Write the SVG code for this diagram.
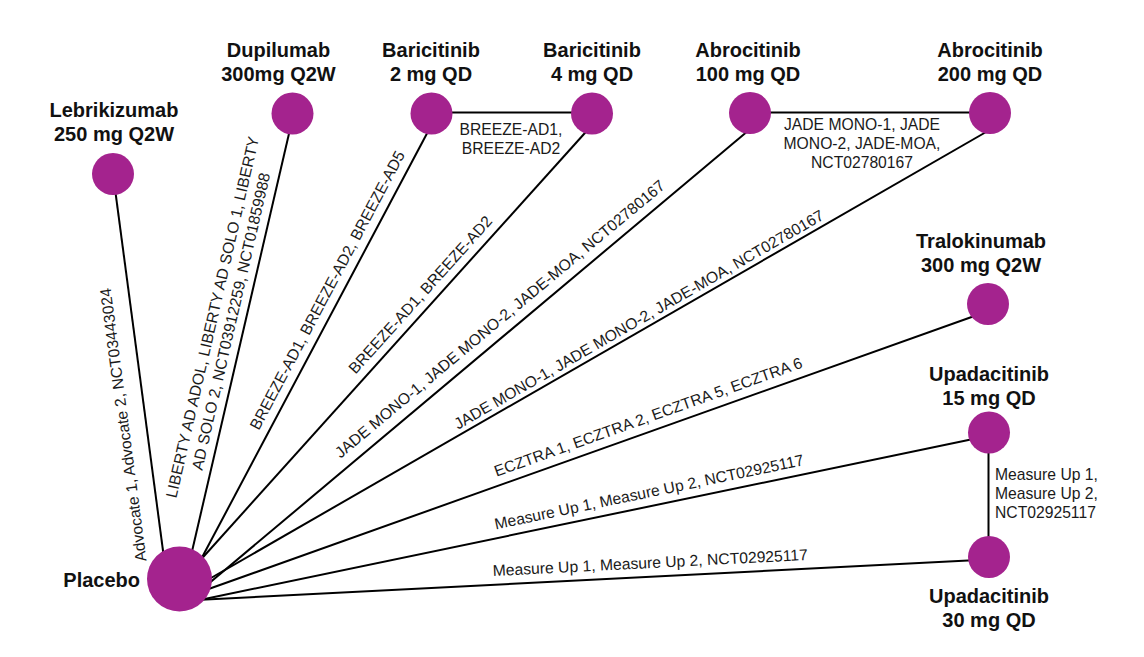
<svg xmlns="http://www.w3.org/2000/svg" width="1144" height="657" viewBox="0 0 1144 657">
<style>
.node{fill:#A4238E;}
.edge{stroke:#000;stroke-width:2;fill:none;}
.nl{font-family:"Liberation Sans",Arial,sans-serif;font-weight:bold;font-size:20px;fill:#111;text-anchor:middle;}
.el{font-family:"Liberation Sans",Arial,sans-serif;font-size:15.7px;fill:#1a1a1a;text-anchor:middle;}
</style>
<rect width="1144" height="657" fill="#fff"/>
<g id="connectors">
<line class="edge" x1="114.5" y1="185" x2="164.5" y2="562"/>
<line class="edge" x1="291" y1="125" x2="190" y2="560"/>
<line class="edge" x1="432" y1="124" x2="198" y2="565"/>
<line class="edge" x1="593" y1="124" x2="196" y2="565"/>
<line class="edge" x1="755" y1="125" x2="207" y2="585"/>
<line class="edge" x1="1000" y1="124" x2="204" y2="582"/>
<line class="edge" x1="980" y1="314" x2="203" y2="591"/>
<line class="edge" x1="978" y1="438" x2="195" y2="601"/>
<line class="edge" x1="978" y1="560" x2="196" y2="600"/>
<line class="edge" x1="431" y1="112.5" x2="592" y2="112.5"/>
<line class="edge" x1="750" y1="112.5" x2="990" y2="112.5"/>
<line class="edge" x1="988.5" y1="432" x2="988.5" y2="557"/>
<g id="edge-labels">
<text class="el" transform="translate(137.5,423) rotate(-97.5)" x="0" y="-9">Advocate 1, Advocate 2, NCT03443024</text>
<g transform="translate(245,324.6) rotate(-77.06)">
<text class="el" x="0" y="-28">LIBERTY AD ADOL, LIBERTY AD SOLO 1, LIBERTY</text>
<text class="el" x="0" y="-9">AD SOLO 2, NCT03912259, NCT01859988</text>
</g>
<text class="el" transform="translate(340,297) rotate(-62.07)" x="0" y="-9">BREEZE-AD1, BREEZE-AD2, BREEZE-AD5</text>
<text class="el" transform="translate(431,304.4) rotate(-48.04)" x="0" y="-9">BREEZE-AD1, BREEZE-AD2</text>
<text class="el" transform="translate(509,330) rotate(-39.8)" x="0" y="-9">JADE MONO-1, JADE MONO-2, JADE-MOA, NCT02780167</text>
<text class="el" transform="translate(646,332) rotate(-29.9)" x="0" y="-9">JADE MONO-1, JADE MONO-2, JADE-MOA, NCT02780167</text>
<text class="el" transform="translate(653,430.5) rotate(-19.65)" x="0" y="-9">ECZTRA 1, ECZTRA 2, ECZTRA 5, ECZTRA 6</text>
<text class="el" transform="translate(652,506) rotate(-11.78)" x="0" y="-9">Measure Up 1, Measure Up 2, NCT02925117</text>
<text class="el" transform="translate(651,577) rotate(-2.92)" x="0" y="-9">Measure Up 1, Measure Up 2, NCT02925117</text>
<text class="el" x="511" y="135">BREEZE-AD1,</text>
<text class="el" x="511" y="154">BREEZE-AD2</text>
<text class="el" x="862" y="130">JADE MONO-1, JADE</text>
<text class="el" x="862" y="149">MONO-2, JADE-MOA,</text>
<text class="el" x="862" y="168">NCT02780167</text>
<text class="el" x="995" y="480" style="text-anchor:start">Measure Up 1,</text>
<text class="el" x="995" y="499" style="text-anchor:start">Measure Up 2,</text>
<text class="el" x="995" y="518" style="text-anchor:start">NCT02925117</text>
</g>
</g>
<g id="placebo">
<circle class="node" cx="179.5" cy="579" r="32.5"/>
<text class="nl" x="140" y="587" style="text-anchor:end">Placebo</text>
</g>
<g id="lebrikizumab">
<circle class="node" cx="113" cy="174" r="21"/>
<text class="nl" x="114" y="117">Lebrikizumab</text>
<text class="nl" x="114" y="141">250 mg Q2W</text>
</g>
<g id="dupilumab">
<circle class="node" cx="292.5" cy="113.5" r="21"/>
<text class="nl" x="278.5" y="57">Dupilumab</text>
<text class="nl" x="278.5" y="81">300mg Q2W</text>
</g>
<g id="baricitinib2">
<circle class="node" cx="431.5" cy="113.5" r="21"/>
<text class="nl" x="431" y="57">Baricitinib</text>
<text class="nl" x="431" y="81">2 mg QD</text>
</g>
<g id="baricitinib4">
<circle class="node" cx="592" cy="113.5" r="21"/>
<text class="nl" x="592" y="57">Baricitinib</text>
<text class="nl" x="592" y="81">4 mg QD</text>
</g>
<g id="abrocitinib100">
<circle class="node" cx="750" cy="113" r="21"/>
<text class="nl" x="748" y="57">Abrocitinib</text>
<text class="nl" x="748" y="81">100 mg QD</text>
</g>
<g id="abrocitinib200">
<circle class="node" cx="990" cy="113" r="21"/>
<text class="nl" x="990" y="57">Abrocitinib</text>
<text class="nl" x="990" y="81">200 mg QD</text>
</g>
<g id="tralokinumab">
<circle class="node" cx="988" cy="304" r="21"/>
<text class="nl" x="981" y="248">Tralokinumab</text>
<text class="nl" x="981" y="272">300 mg Q2W</text>
</g>
<g id="upadacitinib15">
<circle class="node" cx="989" cy="432.5" r="21"/>
<text class="nl" x="989" y="381">Upadacitinib</text>
<text class="nl" x="989" y="405">15 mg QD</text>
</g>
<g id="upadacitinib30">
<circle class="node" cx="989" cy="557" r="21"/>
<text class="nl" x="989" y="603">Upadacitinib</text>
<text class="nl" x="989" y="627">30 mg QD</text>
</g>
</svg>
